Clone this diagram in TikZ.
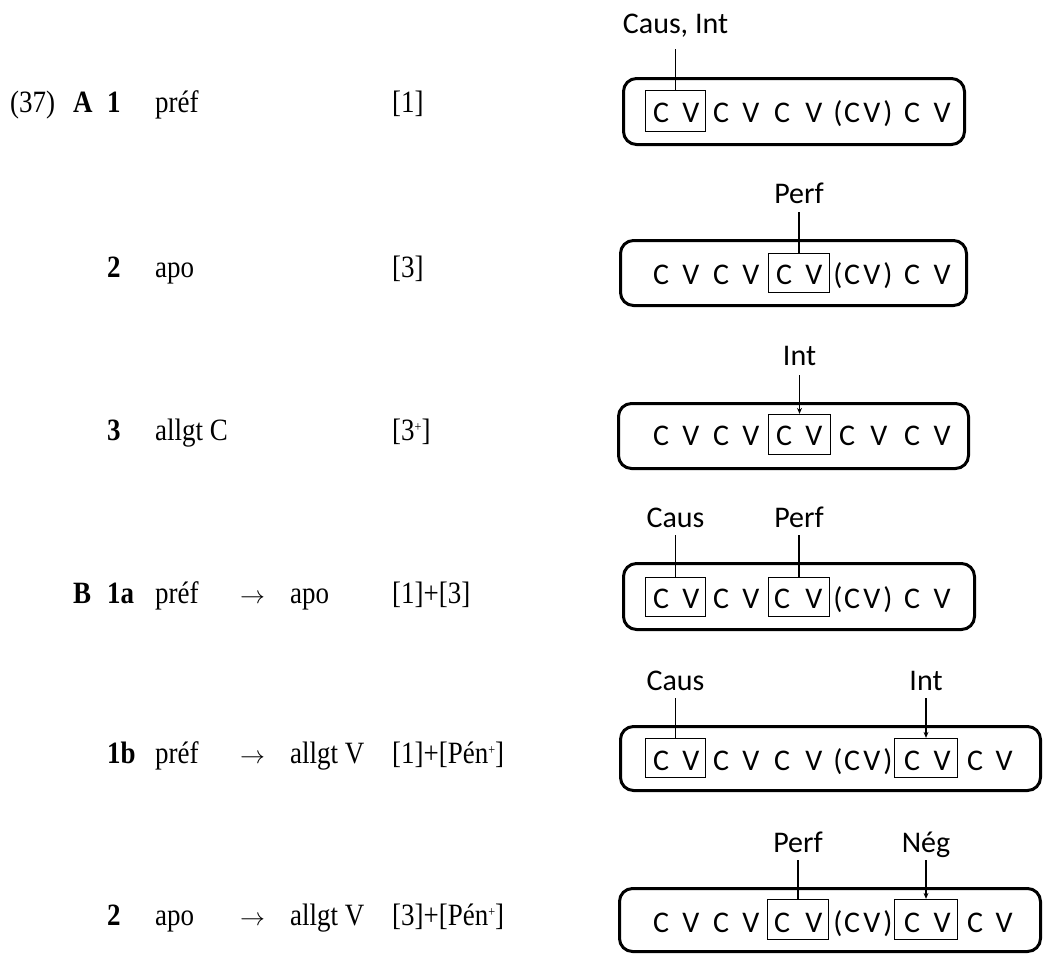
\documentclass[tikz,border=0pt]{standalone}
\usepackage{fontspec}
\usetikzlibrary{arrows.meta}
\newfontfamily\calib{Carlito}
\newfontfamily\serifx[FakeStretch=0.87]{Liberation Serif}
\newcommand{\spl}{\raisebox{0.62ex}{\fontsize{14}{14}\selectfont +}}
\tikzset{
  lt/.style={font=\serifx\fontsize{31}{36}\selectfont, anchor=base west, inner sep=0pt},
  ltb/.style={lt, font=\serifx\bfseries\fontsize{31}{36}\selectfont},
  cv/.style={font=\calib\fontsize{30}{34}\selectfont, anchor=base, inner sep=0pt},
  lab/.style={font=\calib\fontsize{30}{34}\selectfont, anchor=base, inner sep=0pt, text depth=0pt, outer ysep=8pt},
  seg/.style={draw, line width=3pt, rounded corners=13pt, inner sep=0pt},
  ibox/.style={draw, line width=1.3pt, inner sep=0pt, minimum height=40pt},
  link/.style={draw, line width=1.1pt},
  arr/.style={link, -{Stealth[length=6pt,width=5pt]}}
}
\begin{document}
\begin{tikzpicture}[x=1pt,y=-1pt]
\useasboundingbox (0,0) rectangle (1044,954);

% ---------- left column ----------
\node[lt]  (ex)   at (10,112) {(37)};
\node[ltb] (A)    at (73,112) {A};
\node[ltb] (n1)   at (107,112) {1};
\node[lt]  (p1)   at (155,112) {préf};
\node[lt]  (f1)   at (392,112) {[1]};

\node[ltb] (n2)   at (107,277) {2};
\node[lt]  (p2)   at (155,277) {apo};
\node[lt]  (f2)   at (392,277) {[3]};

\node[ltb] (n3)   at (107,440) {3};
\node[lt]  (p3)   at (155,440) {allgt C};
\node[lt]  (f3)   at (392,440) {[3\spl]};

\node[ltb] (B)    at (73,603) {B};
\node[ltb] (n4)   at (107,603) {1a};
\node[lt]  (p4)   at (155,603) {préf};
\node[lt]  (a4)   at (240,603) {$\rightarrow$};
\node[lt]  (q4)   at (290,603) {apo};
\node[lt]  (f4)   at (392,603) {[1]+[3]};

\node[ltb] (n5)   at (107,763) {1b};
\node[lt]  (p5)   at (155,763) {préf};
\node[lt]  (a5)   at (240,763) {$\rightarrow$};
\node[lt]  (q5)   at (290,763) {allgt V};
\node[lt]  (f5)   at (392,763) {[1]+[Pén\spl]};

\node[ltb] (n6)   at (107,925) {2};
\node[lt]  (p6)   at (155,925) {apo};
\node[lt]  (a6)   at (240,925) {$\rightarrow$};
\node[lt]  (q6)   at (290,925) {allgt V};
\node[lt]  (f6)   at (392,925) {[3]+[Pén\spl]};

% ---------- row A1 ----------
\node[seg, minimum width=341pt, minimum height=66pt] (o1) at (794,111.5) {};
\node[ibox, minimum width=60pt, minimum height=41pt] (b1) at (675.5,111) {};
\foreach \x/\t [count=\i] in {661/C,691/V,721/C,751/V,782/C,814/V,838/{(},852/C,872/V,888/{)},912/C,942/V}
  \node[cv] (r1l\i) at (\x,122) {\t};
\node[lab, outer ysep=16pt] (l1) at (675.5,33) {Caus, Int};
\draw[link] (l1.south) -- (b1.north);

% ---------- row A2 ----------
\node[seg, minimum width=346pt, minimum height=65pt] (o2) at (793.5,273) {};
\node[ibox, minimum width=61pt, minimum height=39pt] (b2) at (799,273) {};
\foreach \x/\t [count=\i] in {661/C,691/V,721/C,751/V,784/C,814/V,838/{(},852/C,872/V,888/{)},912/C,942/V}
  \node[cv] (r2l\i) at (\x,284) {\t};
\node[lab, outer ysep=9pt] (l2) at (799,203) {Perf};
\draw[link] (l2.south) -- (b2.north);

% ---------- row A3 ----------
\node[seg, minimum width=350pt, minimum height=65pt] (o3) at (793.5,436) {};
\node[ibox, minimum width=62pt, minimum height=40pt] (b3) at (799.5,434.5) {};
\foreach \x/\t [count=\i] in {661/C,691/V,721/C,751/V,784/C,814/V,847/C,879/V,912/C,942/V}
  \node[cv] (r3l\i) at (\x,445) {\t};
\node[lab, outer ysep=10pt] (l3) at (799.5,365) {Int};
\draw[arr] (l3.south) -- (b3.north);

% ---------- row B1a ----------
\node[seg, minimum width=351pt, minimum height=66pt] (o4) at (799,596.5) {};
\node[ibox, minimum width=60pt, minimum height=39pt] (b4a) at (675.5,597) {};
\node[ibox, minimum width=61pt, minimum height=39pt] (b4b) at (799,597) {};
\foreach \x/\t [count=\i] in {661/C,691/V,721/C,751/V,782/C,814/V,838/{(},852/C,872/V,888/{)},912/C,942/V}
  \node[cv] (r4l\i) at (\x,608) {\t};
\node[lab] (l4a) at (675.5,527) {Caus};
\node[lab] (l4b) at (799,527) {Perf};
\draw[link] (l4a.south) -- (b4a.north);
\draw[link] (l4b.south) -- (b4b.north);

% ---------- row B1b ----------
\node[seg, minimum width=420pt, minimum height=64pt] (o5) at (830.5,758.5) {};
\node[ibox, minimum width=60pt, minimum height=39pt] (b5a) at (675.5,758) {};
\node[ibox, minimum width=63pt, minimum height=39pt] (b5b) at (926,758) {};
\foreach \x/\t [count=\i] in {661/C,691/V,721/C,751/V,782/C,814/V,838/{(},852/C,872/V,888/{)},912/C,942/V,975/C,1004/V}
  \node[cv] (r5l\i) at (\x,770) {\t};
\node[lab] (l5a) at (675.5,690) {Caus};
\node[lab] (l5b) at (926,690) {Int};
\draw[link] (l5a.south) -- (b5a.north);
\draw[arr] (l5b.south) -- (b5b.north);

% ---------- row B2 ----------
\node[seg, minimum width=421pt, minimum height=63pt] (o6) at (830,920) {};
\node[ibox, minimum width=61pt, minimum height=40pt] (b6a) at (798,919.5) {};
\node[ibox, minimum width=63pt, minimum height=40pt] (b6b) at (926,919.5) {};
\foreach \x/\t [count=\i] in {661/C,691/V,721/C,751/V,782/C,814/V,838/{(},852/C,872/V,888/{)},912/C,942/V,975/C,1004/V}
  \node[cv] (r6l\i) at (\x,932) {\t};
\node[lab] (l6a) at (798,852) {Perf};
\node[lab] (l6b) at (926,852) {Nég};
\draw[link] (l6a.south) -- (b6a.north);
\draw[arr] (l6b.south) -- (b6b.north);
\end{tikzpicture}
\end{document}
